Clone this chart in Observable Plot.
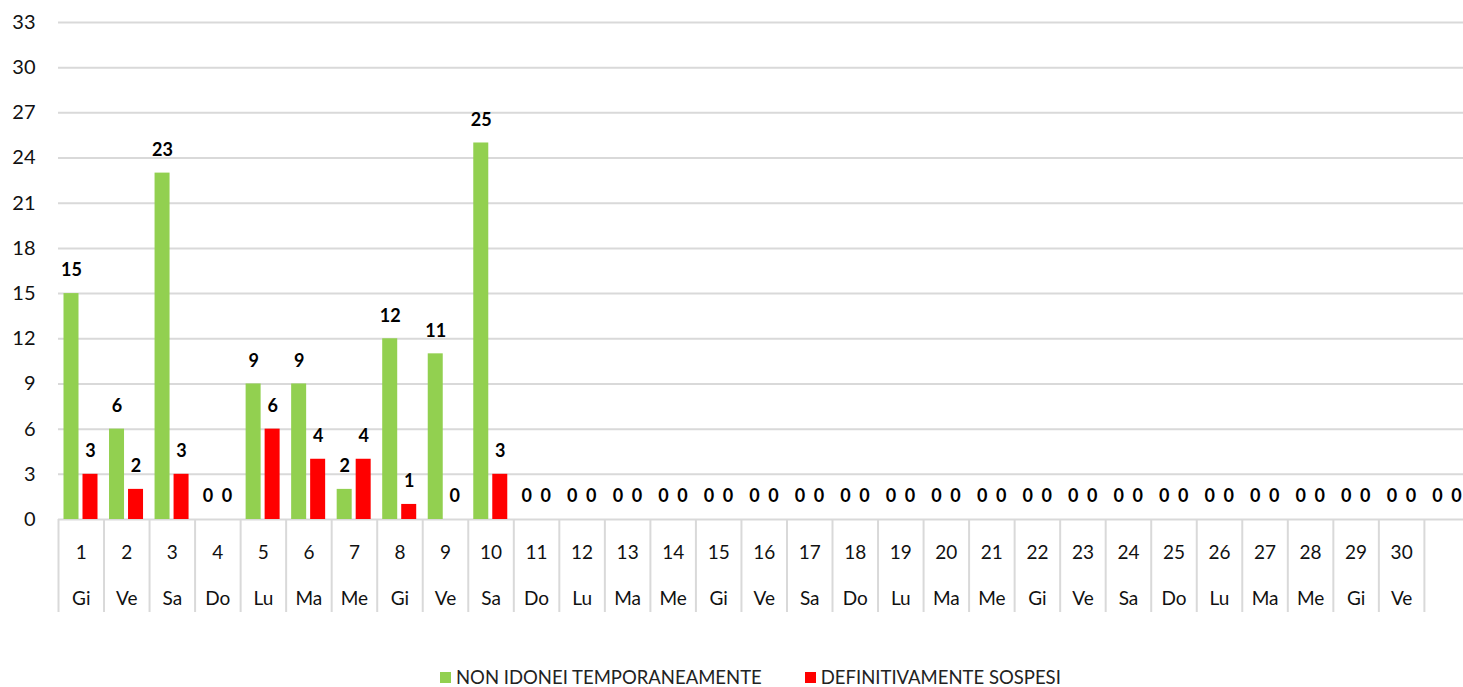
<!DOCTYPE html>
<html>
<head>
<meta charset="utf-8">
<script src="https://cdn.jsdelivr.net/npm/d3@7"></script>
<script src="https://cdn.jsdelivr.net/npm/@observablehq/plot@0.6"></script>
<style>
  html, body { margin: 0; padding: 0; background: #fff; overflow: hidden; }
  #chart svg { overflow: hidden; }
  .legend { position: absolute; top: 666px; left: 440px; display: flex; gap: 43px;
    font-family: Lato, "Open Sans", sans-serif; font-size: 18.5px; line-height: 22px; color: #222; }
  .legend span.item { display: flex; align-items: center; }
  .legend i { display: inline-block; width: 11px; height: 11px; margin-right: 5px; }
</style>
</head>
<body>
<div id="chart"></div>
<div class="legend" id="legend"></div>
<script>
// ---- data ----
const dayNumbers = ["1","2","3","4","5","6","7","8","9","10","11","12","13","14","15","16","17","18","19","20","21","22","23","24","25","26","27","28","29","30",""];
const weekdays = ["Gi","Ve","Sa","Do","Lu","Ma","Me","Gi","Ve","Sa","Do","Lu","Ma","Me","Gi","Ve","Sa","Do","Lu","Ma","Me","Gi","Ve","Sa","Do","Lu","Ma","Me","Gi","Ve",""];
const nonIdonei = [15,6,23,0,9,9,2,12,11,25,0,0,0,0,0,0,0,0,0,0,0,0,0,0,0,0,0,0,0,0,0];
const sospesi   = [3,2,3,0,6,4,4,1,0,3,0,0,0,0,0,0,0,0,0,0,0,0,0,0,0,0,0,0,0,0,0];
const seriesNames = ["NON IDONEI TEMPORANEAMENTE", "DEFINITIVAMENTE SOSPESI"];
const seriesColors = ["#92d050", "#ff0000"];
const yTicks = [0,3,6,9,12,15,18,21,24,27,30,33];

// ---- layout ----
const W = 1463, H = 625;
const mL = 58, mT = 22, mB = 106;
const step = 45.53;
const mR = W - (mL + step * dayNumbers.length);
const bw = step;
const barW = 15, gap = 4, outerL = 5.5;
const greenIL = outerL, greenIR = bw - outerL - barW;
const redIL = outerL + barW + gap, redIR = bw - redIL - barW;
const greenDx = outerL + barW / 2 - bw / 2;
const redDx = redIL + barW / 2 - bw / 2;

const idx = d3.range(dayNumbers.length);
const rows = idx.map(i => ({i, num: dayNumbers[i], wd: weekdays[i], g: nonIdonei[i], r: sospesi[i]}));
const frameH = H - mT - mB;
const font = 'Lato, "Open Sans", sans-serif';

const chart = Plot.plot({
  width: W, height: H,
  marginLeft: mL, marginRight: mR, marginTop: mT, marginBottom: mB,
  style: {fontFamily: font, background: "#fff", overflow: "hidden"},
  x: {domain: idx, padding: 0, round: false, axis: null},
  y: {domain: [0, 33], ticks: yTicks, tickSize: 0, tickPadding: 23, label: null, tickFormat: d => d},
  marks: [
    Plot.ruleY(yTicks, {stroke: "#d9d9d9", strokeWidth: 2, insetRight: -20}),
    Plot.barY(rows, {x: "i", y: "g", fill: seriesColors[0], insetLeft: greenIL, insetRight: greenIR}),
    Plot.barY(rows, {x: "i", y: "r", fill: seriesColors[1], insetLeft: redIL, insetRight: redIR}),
    Plot.text(rows, {x: "i", y: "g", text: d => String(d.g), dx: greenDx, dy: -23, fontWeight: "bold", fontSize: 18, fill: "#000"}),
    Plot.text(rows, {x: "i", y: "r", text: d => String(d.r), dx: redDx, dy: -23, fontWeight: "bold", fontSize: 18, fill: "#000"}),
    Plot.ruleX(rows, {x: "i", dx: -bw / 2, stroke: "#d9d9d9", strokeWidth: 2, insetTop: frameH, insetBottom: -93}),
    Plot.text(rows, {x: "i", text: "num", frameAnchor: "bottom", dy: 39, fontSize: 19, fill: "#111"}),
    Plot.text(rows, {x: "i", text: "wd", frameAnchor: "bottom", dy: 85, fontSize: 19, fill: "#111"})
  ]
});
chart.querySelectorAll("[aria-label='y-axis tick label'] text, g[aria-label='y-axis'] text").forEach(t => {
  t.setAttribute("font-size", "20"); t.style.fontSize = "20px"; t.setAttribute("fill", "#111");
});
document.getElementById("chart").appendChild(chart);

const legend = document.getElementById("legend");
seriesNames.forEach((n, k) => {
  const s = document.createElement("span");
  s.className = "item";
  const i = document.createElement("i");
  i.style.background = seriesColors[k];
  s.appendChild(i);
  s.appendChild(document.createTextNode(n));
  legend.appendChild(s);
});
</script>
</body>
</html>
